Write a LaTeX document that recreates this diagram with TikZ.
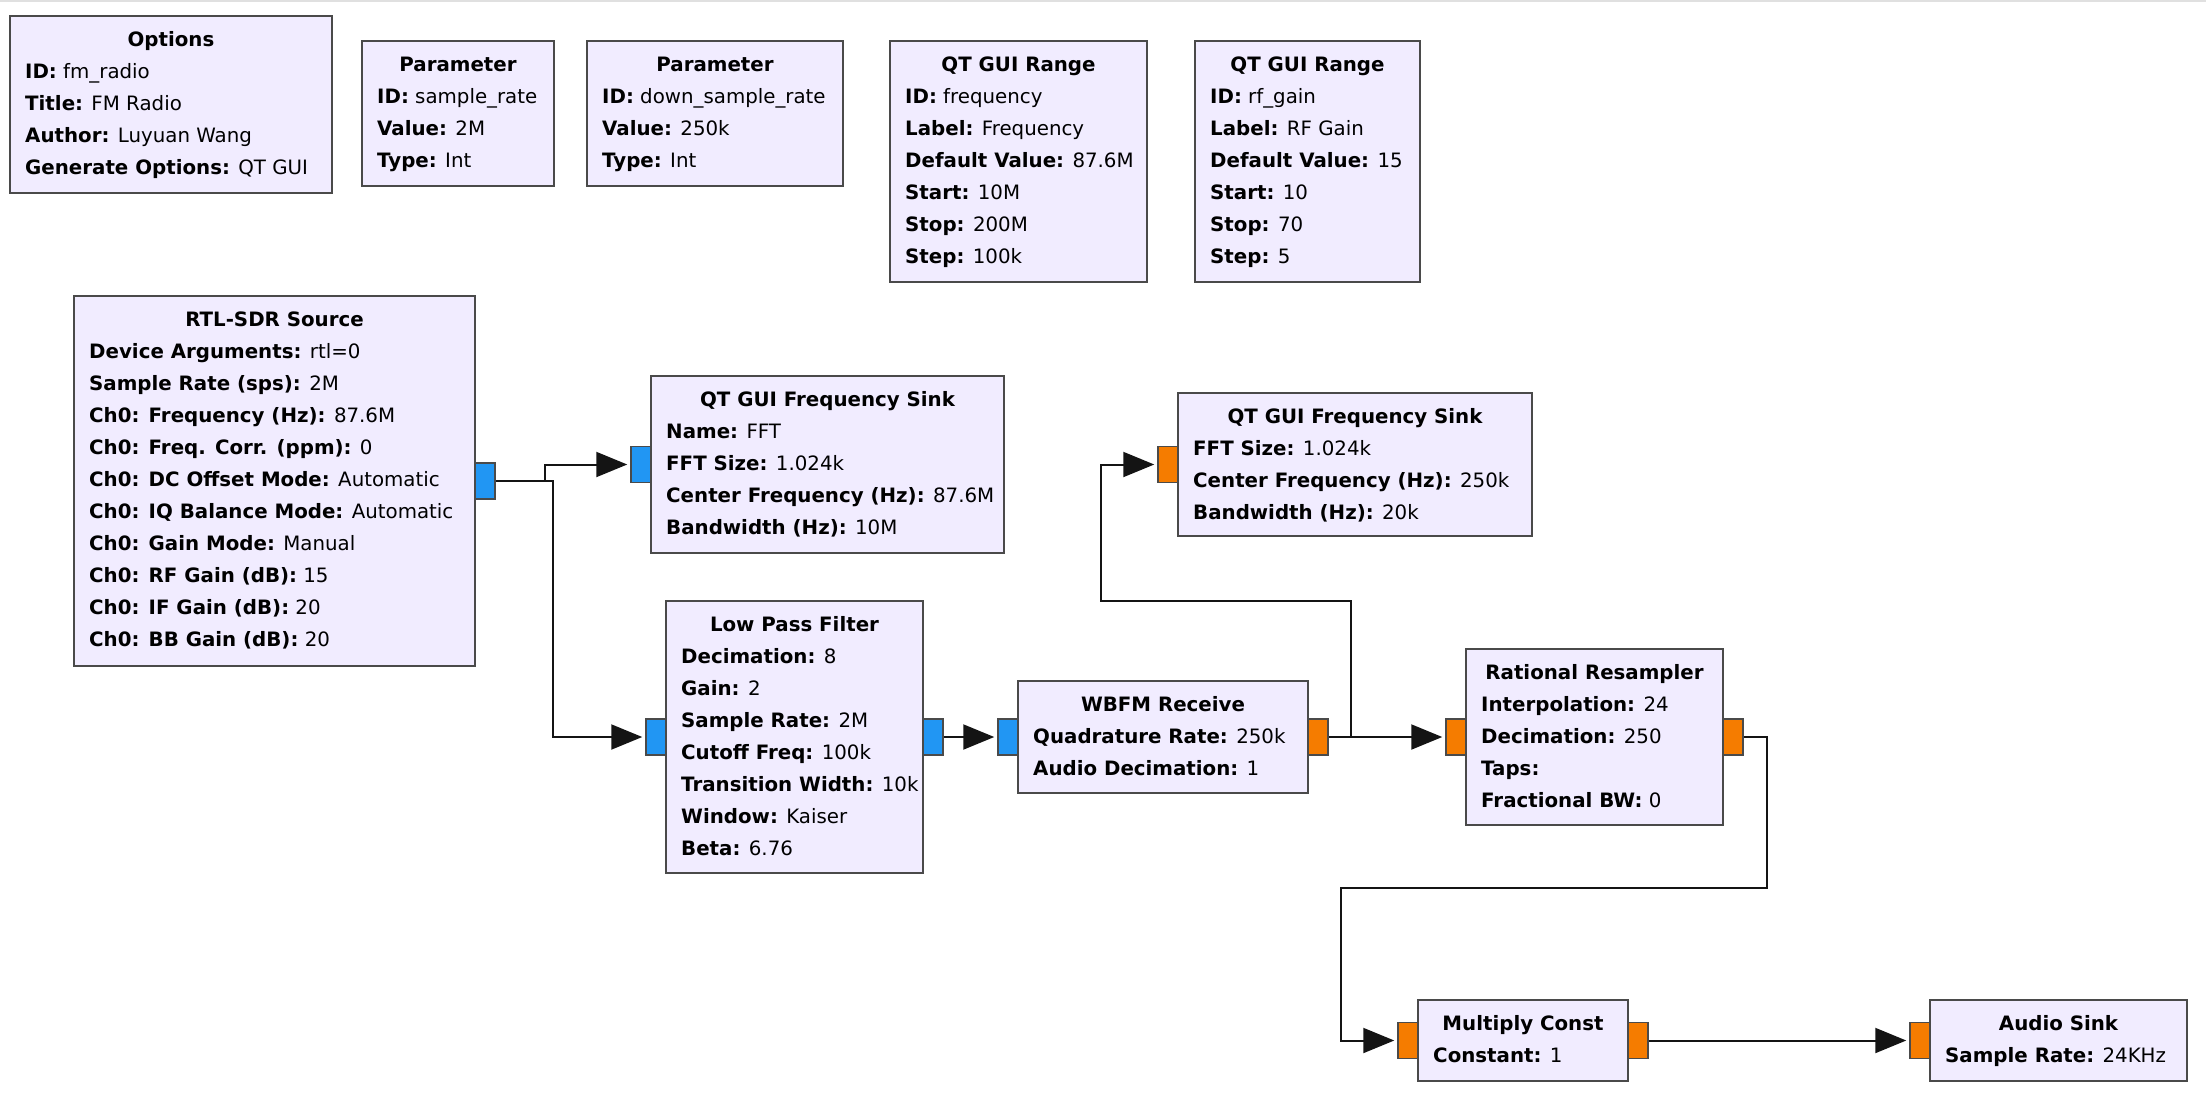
\documentclass[tikz,border=0pt]{standalone}
\usepackage{fontspec}
\setmainfont{DejaVu Sans}
\usetikzlibrary{arrows.meta}

\definecolor{blockfill}{HTML}{F1ECFF}
\definecolor{blockedge}{HTML}{4A4A4A}
\definecolor{cplxport}{HTML}{2196F3}
\definecolor{fltport}{HTML}{F57C00}

\tikzset{
  grcbox/.style={draw=blockedge, fill=blockfill, line width=2pt, rectangle, inner sep=0pt},
  grctitle/.style={font=\fontsize{19.8pt}{24pt}\selectfont\bfseries, inner sep=0pt, anchor=base},
  grcline/.style={font=\fontsize{19.8pt}{24pt}\selectfont, inner sep=0pt, anchor=base west},
  port/.style={draw=blockedge, line width=1.5pt, minimum width=20pt, minimum height=36pt, inner sep=0pt},
  cport/.style={port, fill=cplxport},
  fport/.style={port, fill=fltport},
  wire/.style={draw=black!92, line width=2pt},
  flow/.style={wire, -{Triangle[length=31pt,width=25pt]}, shorten >=3pt},
}

% block: name, left, top, right, bottom, title, {key/value lines}
\newcommand\grcblock[7]{%
  \node[grcbox, minimum width={(#4-#2)*1pt}, minimum height={(#5-#3)*1pt}] (#1) at ({(#2+#4)/2},{(#3+#5)/2}) {};
  \node[grctitle] (#1-t) at ({(#2+#4)/2},{#3+30}) {#6};
  \foreach \k/\v [count=\i] in {#7} {
    \node[grcline] (#1-\i) at ({#2+15},{#3+30+32*\i}) {\textbf{\k} \v};
  }%
}

\begin{document}
\begin{tikzpicture}[x=1pt, y=-1pt]
\useasboundingbox (0,0) rectangle (2206,1098);
\fill[white] (0,0) rectangle (2206,1098);
\draw[black!12, line width=2pt] (0,1) -- (2206,1);

% variable blocks
\grcblock{opt}{10}{16}{332}{193}{Options}{{ID:}/{fm\_radio},{Title:}/{FM Radio},{Author:}/{Luyuan Wang},{Generate Options:}/{QT GUI}}
\grcblock{par1}{362}{41}{554}{186}{Parameter}{{ID:}/{sample\_rate},{Value:}/{2M},{Type:}/{Int}}
\grcblock{par2}{587}{41}{843}{186}{Parameter}{{ID:}/{down\_sample\_rate},{Value:}/{250k},{Type:}/{Int}}
\grcblock{rng1}{890}{41}{1147}{282}{QT GUI Range}{{ID:}/{frequency},{Label:}/{Frequency},{Default Value:}/{87.6M},{Start:}/{10M},{Stop:}/{200M},{Step:}/{100k}}
\grcblock{rng2}{1195}{41}{1420}{282}{QT GUI Range}{{ID:}/{rf\_gain},{Label:}/{RF Gain},{Default Value:}/{15},{Start:}/{10},{Stop:}/{70},{Step:}/{5}}

% signal processing blocks
\grcblock{rtl}{74}{296}{475}{666}{RTL-SDR Source}{{Device Arguments:}/{rtl=0},{Sample Rate (sps):}/{2M},{Ch0: Frequency (Hz):}/{87.6M},{Ch0: Freq. Corr. (ppm):}/{0},{Ch0: DC Offset Mode:}/{Automatic},{Ch0: IQ Balance Mode:}/{Automatic},{Ch0: Gain Mode:}/{Manual},{Ch0: RF Gain (dB):}/{15},{Ch0: IF Gain (dB):}/{20},{Ch0: BB Gain (dB):}/{20}}
\grcblock{fs1}{651}{376}{1004}{553}{QT GUI Frequency Sink}{{Name:}/{FFT},{FFT Size:}/{1.024k},{Center Frequency (Hz):}/{87.6M},{Bandwidth (Hz):}/{10M}}
\grcblock{lpf}{666}{601}{923}{873}{Low Pass Filter}{{Decimation:}/{8},{Gain:}/{2},{Sample Rate:}/{2M},{Cutoff Freq:}/{100k},{Transition Width:}/{10k},{Window:}/{Kaiser},{Beta:}/{6.76}}
\grcblock{wb}{1018}{681}{1308}{793}{WBFM Receive}{{Quadrature Rate:}/{250k},{Audio Decimation:}/{1}}
\grcblock{fs2}{1178}{393}{1532}{536}{QT GUI Frequency Sink}{{FFT Size:}/{1.024k},{Center Frequency (Hz):}/{250k},{Bandwidth (Hz):}/{20k}}
\grcblock{rs}{1466}{649}{1723}{825}{Rational Resampler}{{Interpolation:}/{24},{Decimation:}/{250},{Taps:}/{},{Fractional BW:}/{0}}
\grcblock{mul}{1418}{1000}{1628}{1081}{Multiply Const}{{Constant:}/{1}}
\grcblock{aud}{1930}{1000}{2187}{1081}{Audio Sink}{{Sample Rate:}/{24KHz}}

% ports
\node[cport] (rtl-out) at (485,481) {};
\node[cport] (fs1-in) at (641,464.5) {};
\node[cport] (lpf-in) at (656,737) {};
\node[cport] (lpf-out) at (933,737) {};
\node[cport] (wb-in) at (1008,737) {};
\node[fport] (wb-out) at (1318,737) {};
\node[fport] (fs2-in) at (1168,464.5) {};
\node[fport] (rs-in) at (1456,737) {};
\node[fport] (rs-out) at (1733,737) {};
\node[fport] (mul-in) at (1408,1040.5) {};
\node[fport] (mul-out) at (1638,1040.5) {};
\node[fport] (aud-in) at (1920,1040.5) {};

% wire bends
\coordinate (j1) at (545,481);
\coordinate (j2) at (553,481);
\coordinate (j3) at (1351,737);
\coordinate (c3) at (1101,601);
\coordinate (j4) at (1767,737);
\coordinate (c4) at (1341,888);

% connections
\draw[flow] (rtl-out.east) -- (j1) |- (fs1-in.west);
\draw[flow] (rtl-out.east) -- (j2) |- (lpf-in.west);
\draw[flow] (lpf-out.east) -- (wb-in.west);
\draw[flow] (wb-out.east) -- (j3) -- (j3 |- c3) -- (c3) |- (fs2-in.west);
\draw[flow] (wb-out.east) -- (rs-in.west);
\draw[flow] (rs-out.east) -- (j4) -- (j4 |- c4) -- (c4) |- (mul-in.west);
\draw[flow] (mul-out.east) -- (aud-in.west);
\end{tikzpicture}
\end{document}
